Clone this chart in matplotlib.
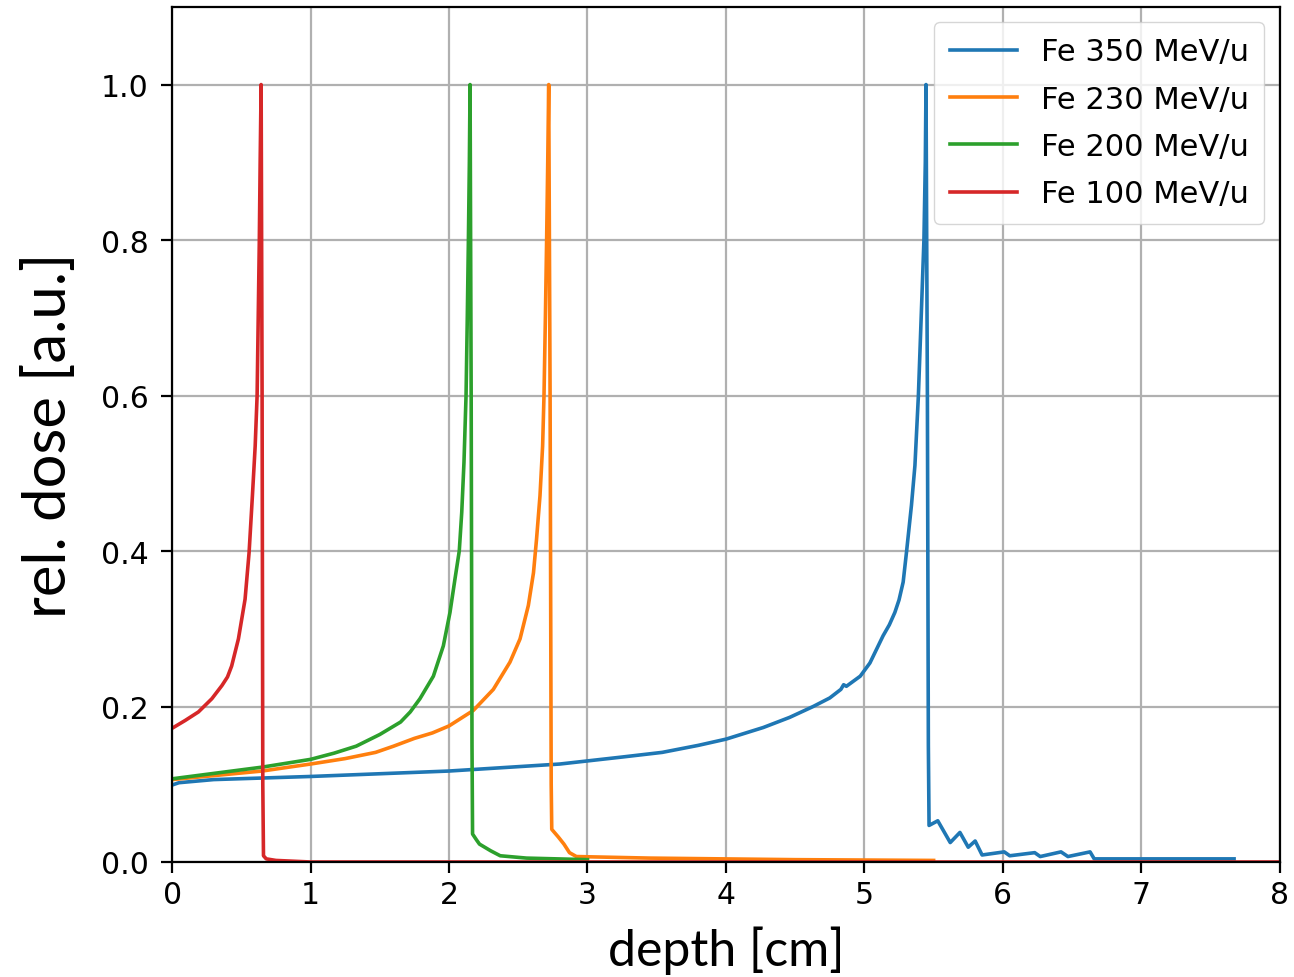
# Depth dose curves of Fe ions
import matplotlib.pyplot as plt

# Fe 350 MeV/u
depth_350 = [0.0, 0.05, 0.3, 1.0, 2.0, 2.8, 3.0, 3.25, 3.54, 3.8, 4.0, 4.27, 4.46, 4.63, 4.75, 4.83,
             4.85, 4.87, 4.97, 5.04, 5.135, 5.18, 5.22, 5.25, 5.28, 5.305, 5.34, 5.365, 5.39, 5.41,
             5.43, 5.44, 5.445, 5.455, 5.462, 5.467, 5.53, 5.62, 5.69, 5.75, 5.80, 5.85,
             6.01, 6.05, 6.23, 6.27, 6.42, 6.47, 6.63, 6.65, 6.66, 7.67]
dose_350 = [0.099, 0.102, 0.106, 0.110, 0.117, 0.126, 0.130, 0.135, 0.141, 0.150, 0.158, 0.173, 0.186, 0.2, 0.211, 0.222,
            0.228, 0.226, 0.239, 0.256, 0.291, 0.305, 0.321, 0.337, 0.36, 0.4, 0.459, 0.51, 0.6, 0.7,
            0.8, 0.9, 1.0, 0.6, 0.15, 0.047, 0.053, 0.025, 0.038, 0.019, 0.027, 0.009,
            0.013, 0.008, 0.012, 0.007, 0.013, 0.007, 0.013, 0.007, 0.004, 0.004]

# Fe 230 MeV/u
depth_230 = [0.0, 0.65, 1.0, 1.25, 1.47, 1.6, 1.75, 1.88, 2.0, 2.176, 2.32, 2.44, 2.513, 2.573, 2.61, 2.632,
             2.657, 2.676, 2.686, 2.696, 2.705, 2.713, 2.72, 2.73, 2.738, 2.742, 2.79,
             2.83, 2.87, 2.92, 3.45, 4.5, 5.5]
dose_230 = [0.106, 0.117, 0.126, 0.133, 0.141, 0.149, 0.159, 0.166, 0.175, 0.195, 0.222, 0.257, 0.287, 0.33, 0.372, 0.415,
            0.471, 0.535, 0.6, 0.7, 0.8, 0.9, 1.0, 0.6, 0.1, 0.042, 0.032,
            0.023, 0.012, 0.007, 0.005, 0.003, 0.002]

# Fe 200 MeV/u
depth_200 = [0.0, 0.65, 1.0, 1.17, 1.33, 1.5, 1.65, 1.72, 1.79, 1.887, 1.959, 2.007, 2.043, 2.074, 2.092,
             2.108, 2.123, 2.132, 2.14, 2.147, 2.152, 2.16, 2.166, 2.17, 2.2, 2.22, 2.30,
             2.37, 2.56, 3.0]
dose_200 = [0.107, 0.122, 0.132, 0.140, 0.149, 0.164, 0.18, 0.193, 0.21, 0.239, 0.278, 0.321, 0.364, 0.4, 0.45,
            0.514, 0.6, 0.7, 0.8, 0.9, 1.0, 0.6, 0.15, 0.036, 0.028, 0.023, 0.0145,
            0.008, 0.005, 0.003]

# Fe 100 MeV/u
depth_100 = [0.0, 0.094, 0.19, 0.287, 0.36, 0.4, 0.43, 0.479, 0.527, 0.556, 0.58, 0.60, 0.614,
             0.622, 0.63, 0.636, 0.643, 0.65, 0.655, 0.66, 0.68, 0.75, 1.0, 8.0]
dose_100 = [0.172, 0.182, 0.193, 0.21, 0.227, 0.238, 0.252, 0.287, 0.338, 0.398, 0.471, 0.535, 0.6,
            0.7, 0.8, 0.9, 1.0, 0.6, 0.1, 0.008, 0.004, 0.002, 0.0, 0.0]

labels = ['Fe 350 MeV/u', 'Fe 230 MeV/u', 'Fe 200 MeV/u', 'Fe 100 MeV/u']

fig = plt.figure(figsize=(12.94, 9.78), dpi=100)
ax = fig.add_axes([0.133, 0.1176, 0.856, 0.8744])

ax.plot(depth_350, dose_350, color='#1f77b4', lw=2.6, label=labels[0])
ax.plot(depth_230, dose_230, color='#ff7f0e', lw=2.6, label=labels[1])
ax.plot(depth_200, dose_200, color='#2ca02c', lw=2.6, label=labels[2])
ax.plot(depth_100, dose_100, color='#d62728', lw=2.6, label=labels[3])

ax.set_xlim(0, 8)
ax.set_ylim(0, 1.1)
ax.set_yticks([0.0, 0.2, 0.4, 0.6, 0.8, 1.0])
ax.grid(color='#b0b0b0', lw=1.6)
ax.tick_params(labelsize=21.5, length=8, width=1.6)
ax.tick_params(axis='y', pad=9)
ax.tick_params(axis='x', pad=5)
for s in ax.spines.values():
    s.set_linewidth(1.6)

ax.set_xlabel('depth [cm]', fontsize=36, family='Lato')
ax.set_ylabel('rel. dose [a.u.]', fontsize=43, family='Lato')
ax.xaxis.set_label_coords(0.5, -0.074)
ax.yaxis.set_label_coords(-0.087, 0.5)

ax.legend(fontsize=22, loc='upper right', handlelength=2.2, borderpad=0.5,
          labelspacing=0.6, framealpha=0.8)

fig.savefig('out.png')
